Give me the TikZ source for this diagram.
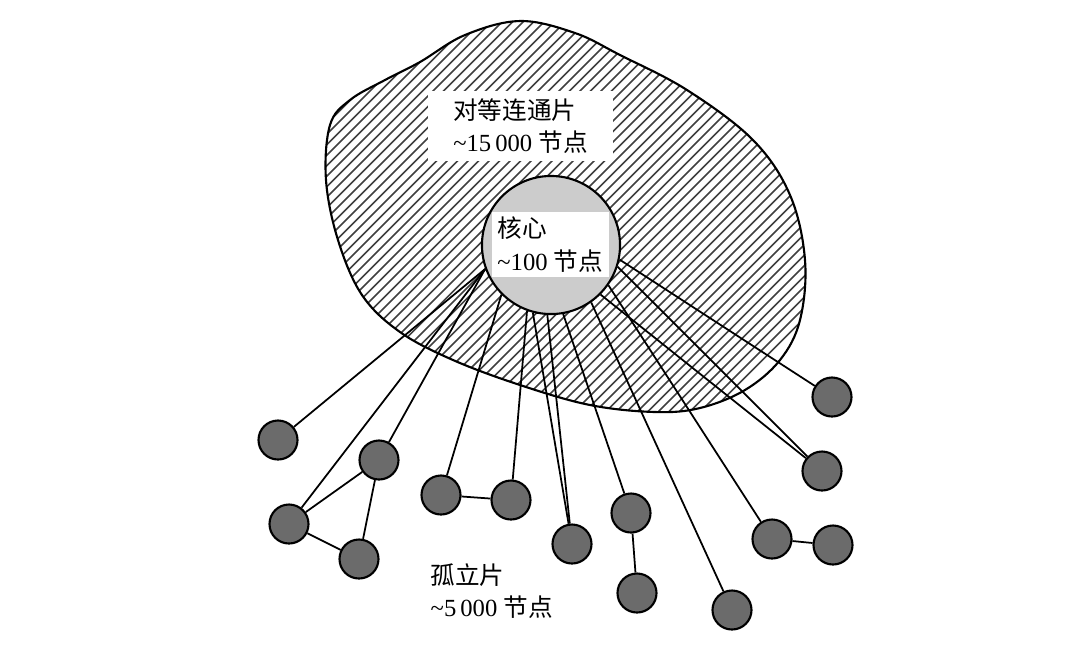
\documentclass[tikz,border=0pt]{standalone}
\usepackage{fontspec}
\setmainfont{Liberation Serif}
\newfontfamily\cjk{Noto Sans CJK SC}
\definecolor{islegray}{gray}{0.42}
\definecolor{coregray}{gray}{0.8}

\begin{document}
\begin{tikzpicture}[
    x=0.01cm, y=-0.01cm,
    font=\fontsize{7}{9.2}\selectfont,
    n/.style ={
        circle,
        fill=islegray,
        draw=black,
        line width=0.6pt,
        minimum size=0.39cm,
        inner sep=0pt
    },
    hatch/.style={line width=0.45pt, black!75},
    link/.style={line width=0.5pt},
    lab/.style={fill=white, align=left, inner sep=0pt}
    ]
    \useasboundingbox (0,0) rectangle (1069,647);

    % peer-connected blob
    \def\blob{plot[smooth cycle, tension=0.6] coordinates {
        (520,21) (575,33) (620,55) (687,90) (753,140) (790,195) (805,260)
        (800,320) (780,360) (745,390) (700,408) (655,412) (590,405)
        (520,385) (453,360) (400,332) (362,295) (338,240) (326,180)
        (330,125) (350,100) (385,80) (420,62) (465,35)}}
    \begin{scope}
        \clip \blob;
        \foreach \c in {440,450.5,...,1130}
            \draw[hatch] ({\c-450},450) -- (\c,0);
    \end{scope}
    \draw[line width=0.6pt] \blob;

    \node[lab, minimum width=1.85cm, minimum height=0.7cm] (peer) at (520.5,126)
        {{\cjk 对等连通片}\\\textasciitilde15\,000 {\cjk 节点}};

    % core
    \node[circle, fill=coregray, draw=black, line width=0.6pt, minimum size=1.38cm, inner sep=0pt] (core) at (551,245) {};
    \node[lab, anchor=west, minimum width=1.17cm, minimum height=0.65cm] (corelab) at (491,244.5)
        {{\cjk 核心}\\\textasciitilde100 {\cjk 节点}};

    % isolated pieces
    \foreach \x/ \pos in {{1/(278,440)}, {2/(379,460)}, {3/(289,524)}, {4/(359,559)},
                          {5/(441,495)}, {6/(511,500)}, {7/(572,544)}, {8/(631,513)},
                          {9/(637,593)}, {10/(732,610)}, {11/(772,539)}, {12/(833,545)},
                          {13/(822,471)}, {14/(832,397)}}
        \node[n] (\x) at \pos {};

    \foreach \ang/ \dst in {200/1, 200/2, 200/3, 225/5, 250/6, 255/7, 267/7,
                            280/8, 305/10, 325/11, 315/13, 342/13, 348/14}
        \draw[link] (core.\ang) -- (\dst);

    \foreach \src/ \dst in {2/3, 2/4, 3/4, 5/6, 8/9, 11/12}
        \draw[link] (\src) -- (\dst);

    \node[align=left, anchor=west, inner sep=0pt] (iso) at (430,591)
        {{\cjk 孤立片}\\\textasciitilde5\,000 {\cjk 节点}};

\end{tikzpicture}
\end{document}
